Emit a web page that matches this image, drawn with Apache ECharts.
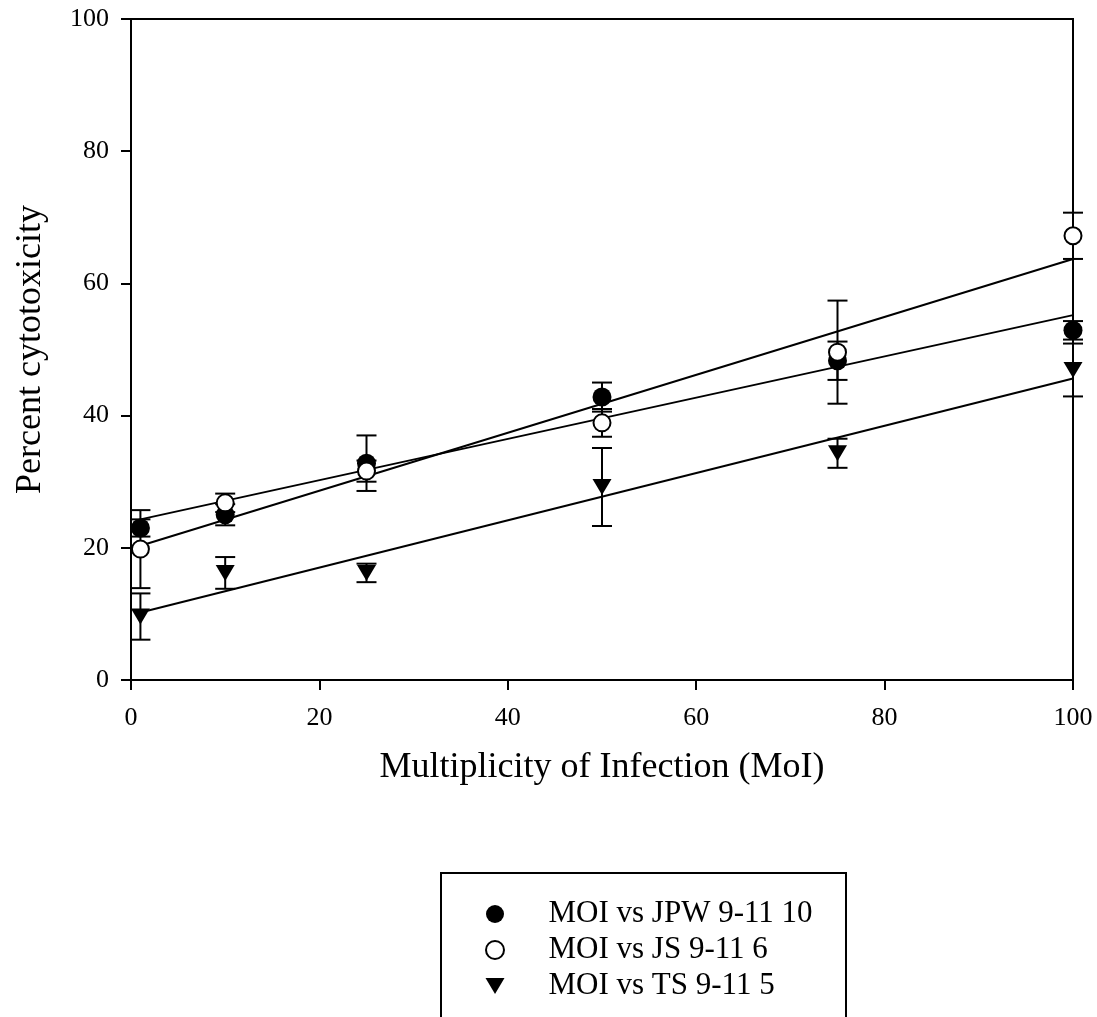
<!DOCTYPE html>
<html>
<head>
<meta charset="utf-8">
<script src="https://cdn.jsdelivr.net/npm/echarts@6/dist/echarts.min.js"></script>
<style>
  html, body { margin: 0; padding: 0; background: #fff; }
  #chart { width: 1097px; height: 1017px; }
</style>
</head>
<body>
<div id="chart"></div>
<script>
// MOI values
var moi = [1, 10, 25, 50, 75, 100]
// percent cytotoxicity
var jpw = [23.0, 25.0, 32.8, 42.8, 48.3, 52.9]
var jpwErr = [1.3, 1.6, 4.2, 2.2, 2.9, 1.4]
var js = [19.8, 26.8, 31.6, 38.9, 49.6, 67.2]
var jsErr = [5.9, 1.4, 1.6, 2.1, 7.8, 3.5]
var ts = [9.6, 16.2, 16.2, 29.2, 34.3, 46.9]
var tsErr = [3.5, 2.4, 1.4, 5.9, 2.2, 4.0]
// regression line end points
var fitX = [1, 100]
var jpwFit = [24.3, 55.2]
var jsFit = [20.3, 63.7]
var tsFit = [10.2, 45.6]

var names = ['MOI vs JPW 9-11 10', 'MOI vs JS 9-11 6', 'MOI vs TS 9-11 5']
var downTriangle = 'path://M0,0L10,0L5,8.4Z'
var font = '"Liberation Serif", "Times New Roman", serif'

function pts (xs, ys) {
  return xs.map(function (x, i) { return [x, ys[i]] })
}
function errPts (ys, err) {
  return moi.map(function (x, i) { return [x, ys[i] - err[i], ys[i] + err[i]] })
}
function errSeries (ys, err) {
  return {
    type: 'custom',
    z: 3,
    silent: true,
    data: errPts(ys, err),
    encode: { x: 0, y: [1, 2] },
    renderItem: function (params, api) {
      var lo = api.coord([api.value(0), api.value(1)])
      var hi = api.coord([api.value(0), api.value(2)])
      var w = 10
      var st = { stroke: '#000', lineWidth: 2 }
      return {
        type: 'group',
        children: [
          { type: 'line', shape: { x1: lo[0], y1: lo[1], x2: hi[0], y2: hi[1] }, style: st },
          { type: 'line', shape: { x1: hi[0] - w, y1: hi[1], x2: hi[0] + w, y2: hi[1] }, style: st },
          { type: 'line', shape: { x1: lo[0] - w, y1: lo[1], x2: lo[0] + w, y2: lo[1] }, style: st }
        ]
      }
    }
  }
}
function fitSeries (ys) {
  return {
    type: 'line',
    z: 2,
    silent: true,
    symbol: 'none',
    data: pts(fitX, ys),
    lineStyle: { color: '#000', width: 2 }
  }
}

var chart = echarts.init(document.getElementById('chart'))
chart.setOption({
  animation: false,
  grid: {
    left: 131, right: 24, top: 19, bottom: 337,
    show: true, borderColor: '#000', borderWidth: 2
  },
  // legend frame, runs off the bottom like the original
  graphic: [{
    type: 'rect',
    shape: { x: 441, y: 873, width: 405, height: 200 },
    style: { fill: 'none', stroke: '#000', lineWidth: 2 }
  }],
  legend: {
    data: names,
    orient: 'vertical',
    left: 485,
    top: 896,
    itemGap: 0,
    itemWidth: 19,
    itemHeight: 18,
    padding: 0,
    textStyle: { fontFamily: font, fontSize: 31, color: '#000', lineHeight: 36, padding: [0, 0, 0, 39] }
  },
  xAxis: {
    type: 'value',
    min: 0, max: 100, interval: 20,
    name: 'Multiplicity of Infection (MoI)',
    nameLocation: 'middle',
    nameGap: 70,
    nameTextStyle: { fontFamily: font, fontSize: 36, color: '#000' },
    axisLine: { lineStyle: { color: '#000', width: 2 } },
    axisTick: { inside: false, length: 10, lineStyle: { color: '#000', width: 2 } },
    axisLabel: { fontFamily: font, fontSize: 26, color: '#000', margin: 25 },
    splitLine: { show: false }
  },
  yAxis: {
    type: 'value',
    min: 0, max: 100, interval: 20,
    name: 'Percent cytotoxicity',
    nameLocation: 'middle',
    nameGap: 82,
    nameTextStyle: { fontFamily: font, fontSize: 36, color: '#000' },
    axisLine: { lineStyle: { color: '#000', width: 2 } },
    axisTick: { inside: false, length: 10, lineStyle: { color: '#000', width: 2 } },
    axisLabel: { fontFamily: font, fontSize: 26, color: '#000', margin: 22 },
    splitLine: { show: false }
  },
  series: [
    fitSeries(jpwFit),
    fitSeries(jsFit),
    fitSeries(tsFit),
    errSeries(jpw, jpwErr),
    errSeries(js, jsErr),
    errSeries(ts, tsErr),
    {
      name: names[0],
      type: 'scatter',
      z: 5,
      symbol: 'circle',
      symbolSize: 19,
      data: pts(moi, jpw),
      itemStyle: { color: '#000', opacity: 1 }
    },
    {
      name: names[1],
      type: 'scatter',
      z: 5,
      symbol: 'circle',
      symbolSize: 17,
      data: pts(moi, js),
      itemStyle: { color: '#fff', borderColor: '#000', borderWidth: 2, opacity: 1 }
    },
    {
      name: names[2],
      type: 'scatter',
      z: 5,
      symbol: downTriangle,
      symbolSize: [19, 16],
      data: pts(moi, ts),
      itemStyle: { color: '#000', opacity: 1 }
    }
  ]
})
</script>
</body>
</html>
